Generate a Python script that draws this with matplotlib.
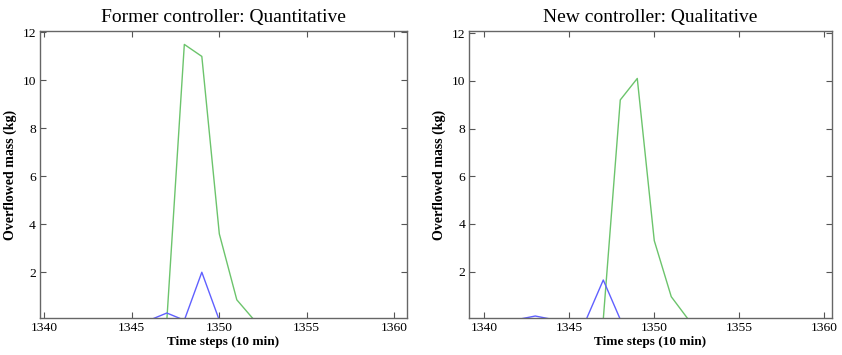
import matplotlib.pyplot as plt

# time steps (10 min)
steps = [1340, 1341, 1342, 1343, 1344, 1345, 1346, 1347, 1348, 1349, 1350,
         1351, 1352, 1353, 1354, 1355, 1356, 1357, 1358, 1359, 1360]

# former controller (quantitative)
former_green = [0, 0, 0, 0, 0, 0, 0, 0, 11.5, 11.0, 3.6,
                0.85, 0, 0, 0, 0, 0, 0, 0, 0, 0]
former_blue = [0, 0, 0, 0, 0, 0, 0, 0.3, 0, 2.0, 0,
               0, 0, 0, 0, 0, 0, 0, 0, 0, 0]

# new controller (qualitative)
new_green = [0, 0, 0, 0, 0, 0, 0, 0, 9.2, 10.1, 3.3,
             0.95, 0, 0, 0, 0, 0, 0, 0, 0, 0]
new_blue = [0, 0, 0, 0.14, 0, 0, 0, 1.65, 0, 0, 0,
            0, 0, 0, 0, 0, 0, 0, 0, 0, 0]

titles = ["Former controller: Quantitative", "New controller: Qualitative"]

plt.rcParams['font.family'] = ['Liberation Serif', 'DejaVu Serif']

fig = plt.figure(figsize=(8.42, 3.55), dpi=100)
ax1 = fig.add_axes([0.0475, 0.1034, 0.4355, 0.81])
ax2 = fig.add_axes([0.5574, 0.1034, 0.4304, 0.81])

panels = [
    (ax1, former_green, former_blue, (1339.75, 1360.71), (0.08, 12.07)),
    (ax2, new_green, new_blue, (1339.12, 1360.44), (0.045, 12.1)),
]

for i, (ax, g, b, xl, yl) in enumerate(panels):
    ax.plot(steps, g, color='#6cc46c', lw=1.0)
    ax.plot(steps, b, color='#6060ff', lw=1.0)
    ax.set_xlim(*xl)
    ax.set_ylim(*yl)
    ax.set_xticks([1340, 1345, 1350, 1355, 1360])
    ax.set_yticks([2, 4, 6, 8, 10, 12])
    ax.tick_params(direction='in', top=True, right=True, length=4,
                   width=0.8, color='#555555', labelsize=9.7, pad=3)
    for s in ax.spines.values():
        s.set_color('#666666')
        s.set_linewidth(1.0)
    ax.set_title(titles[i], fontsize=14, pad=6)
    ax.set_xlabel("Time steps (10 min)", fontsize=9.5, fontweight='bold', labelpad=1)
    ax.set_ylabel("Overflowed mass (kg)", fontsize=10, fontweight='bold', labelpad=4)

fig.savefig("out.png", dpi=100)
